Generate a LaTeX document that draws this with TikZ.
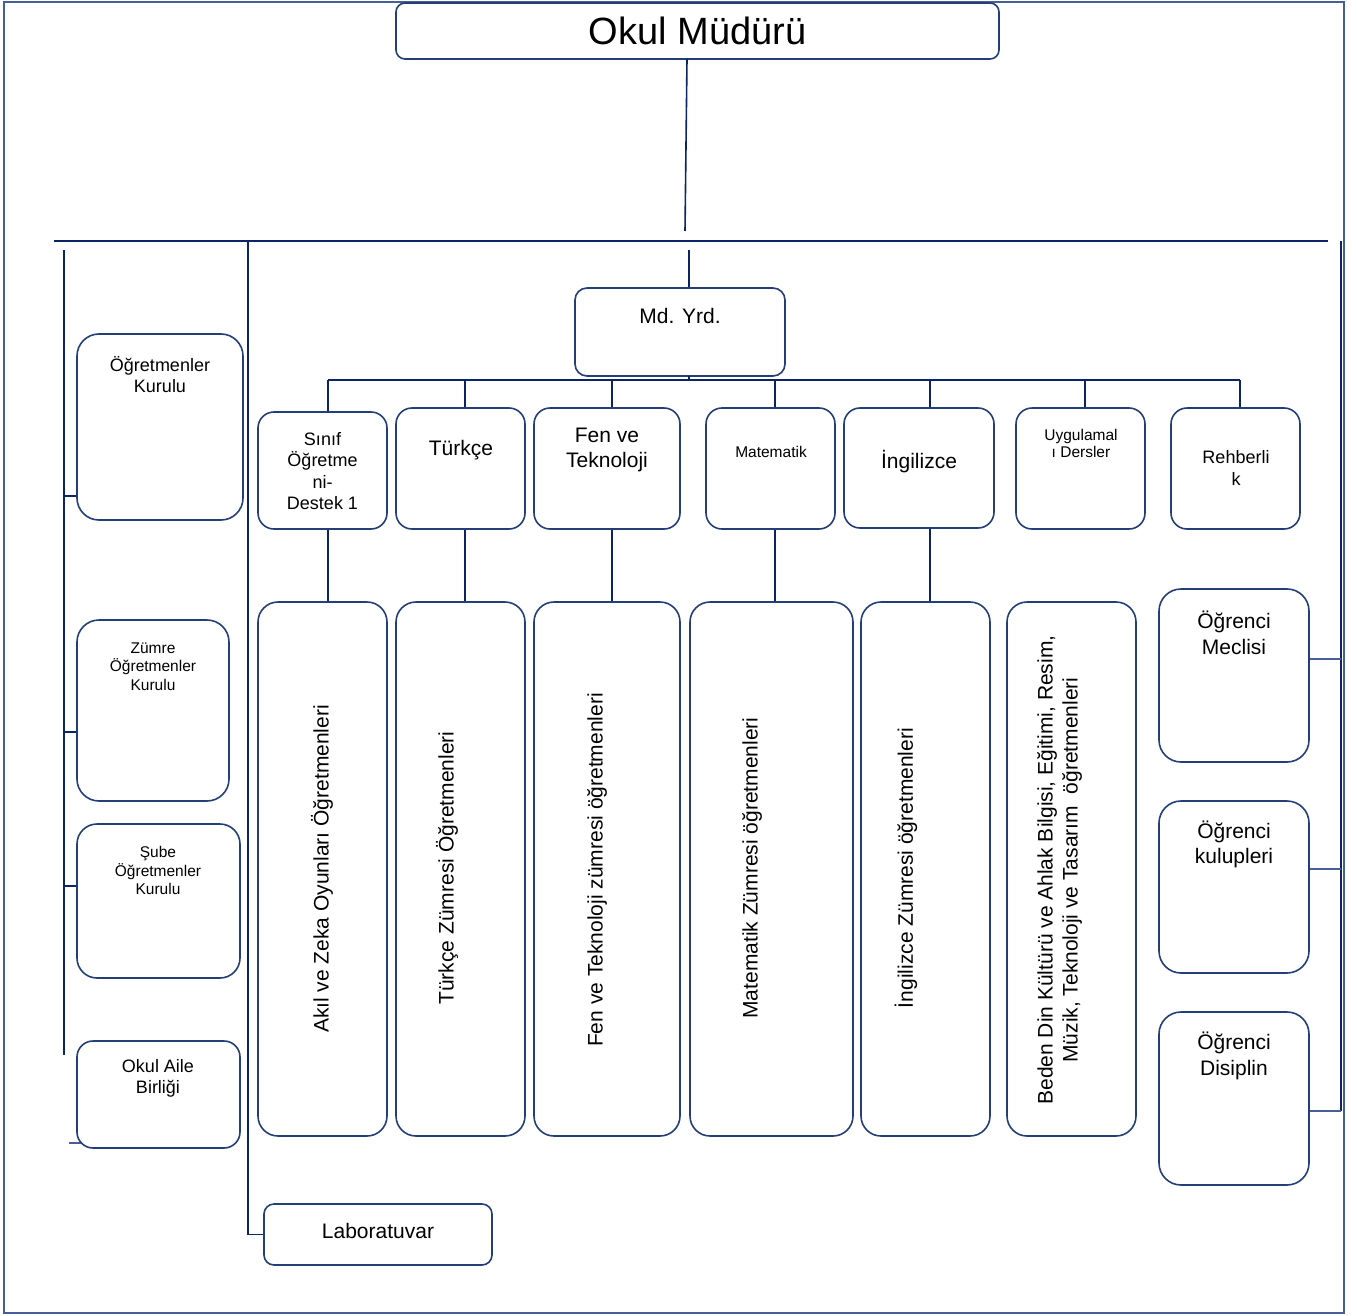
\documentclass[tikz,border=0pt]{standalone}
\usepackage{fontspec}
\setmainfont{Liberation Sans}
\usetikzlibrary{backgrounds}
\definecolor{boxc}{RGB}{36,62,120}
\definecolor{linec}{RGB}{10,36,100}
\definecolor{framec}{RGB}{70,95,150}
\begin{document}
\begin{tikzpicture}[x=1pt,y=-1pt,
  box/.style={draw=boxc,line width=1.6pt,rounded corners=16pt,inner sep=0pt,fill=white},
  conn/.style={draw=linec,line width=1.6pt},
  txt/.style={inner sep=0pt,align=center,text=black},
  fa/.style={font=\fontsize{21}{25.5}\selectfont},
  fb/.style={font=\fontsize{18}{21.5}\selectfont},
  fc/.style={font=\fontsize{15.5}{18.5}\selectfont}]
\useasboundingbox (0,0) rectangle (1357,1316);
\draw[draw=framec,line width=1.4pt] (4,2) rectangle (1344,1313);

% top
\node[box,rounded corners=9pt,minimum width=603pt,minimum height=56pt,font=\fontsize{38}{44}\selectfont] (mudur) at (697.5,31) {Okul Müdürü};
\node[box,rounded corners=12pt,minimum width=210pt,minimum height=88pt] (mdyrd) at (680,332) {};
\node[txt,fa] (tmdyrd) at (680,316) {Md. Yrd.};

% second row boxes
\node[box,minimum width=129pt,minimum height=117pt] (sinif) at (322.5,470.5) {};
\node[txt,fb] (tsinif) at (322.5,471) {Sınıf\\Öğretme\\ni-\\Destek 1};
\node[box,minimum width=129pt,minimum height=121pt] (turkce) at (460.5,468.5) {};
\node[txt,fa] (tturkce) at (461,450) {Türkçe};
\node[box,minimum width=146pt,minimum height=121pt] (fen) at (607,468.5) {};
\node[txt,fa] (tfen) at (607,450) {Fen ve\\Teknoloji};
\node[box,minimum width=129pt,minimum height=121pt] (mat) at (770.5,468.5) {};
\node[txt,fc] (tmat) at (771,452) {Matematik};
\node[box,minimum width=150pt,minimum height=120pt] (ing) at (919,468) {};
\node[txt,fa] (ting) at (919,462) {İngilizce};
\node[box,minimum width=129pt,minimum height=121pt] (uyg) at (1080.5,468.5) {};
\node[txt,fc,font=\fontsize{15.5}{17}\selectfont] (tuyg) at (1081,443.5) {Uygulamal\\ı Dersler};
\node[box,minimum width=129pt,minimum height=121pt] (reh) at (1235.5,468.5) {};
\node[txt,fb] (treh) at (1236,468) {Rehberli\\k};

% tall boxes
\node[box,rounded corners=20pt,minimum width=129pt,minimum height=534pt] (a1) at (322.5,869) {};
\node[txt,fa,rotate=90] (ta1) at (322,869) {Akıl ve Zeka Oyunları Öğretmenleri};
\node[box,rounded corners=20pt,minimum width=129pt,minimum height=534pt] (a2) at (460.5,869) {};
\node[txt,fa,rotate=90] (ta2) at (447,868) {Türkçe Zümresi Öğretmenleri};
\node[box,rounded corners=20pt,minimum width=146pt,minimum height=534pt] (a3) at (607,869) {};
\node[txt,fa,rotate=90] (ta3) at (597,870) {Fen ve Teknoloji zümresi öğretmenleri};
\node[box,rounded corners=20pt,minimum width=163pt,minimum height=534pt] (a4) at (771.5,869) {};
\node[txt,fa,rotate=90] (ta4) at (752,868) {Matematik Zümresi öğretmenleri};
\node[box,rounded corners=20pt,minimum width=129pt,minimum height=534pt] (a5) at (925.5,869) {};
\node[txt,fa,rotate=90] (ta5) at (906,868) {İngilizce Zümresi öğretmenleri};
\node[box,rounded corners=20pt,minimum width=129pt,minimum height=534pt] (a6) at (1071.5,869) {};
\node[txt,fa,rotate=90,font=\fontsize{21}{25}\selectfont] (ta6) at (1059.5,870) {Beden Din Kültürü ve Ahlak Bilgisi, Eğitimi, Resim,\\Müzik, Teknoloji ve Tasarım\ \ öğretmenleri};

% left boxes
\node[box,rounded corners=22pt,minimum width=166pt,minimum height=186pt] (ok) at (160,427) {};
\node[txt,fb] (tok) at (160,374.5) {Öğretmenler\\Kurulu};
\node[box,rounded corners=22pt,minimum width=152pt,minimum height=181pt] (zk) at (153,710.5) {};
\node[txt,fc] (tzk) at (153,666.5) {Zümre\\Öğretmenler\\Kurulu};
\node[box,rounded corners=20pt,minimum width=163pt,minimum height=154pt] (sk) at (158.5,901) {};
\node[txt,fc] (tsk) at (158,870.5) {Şube\\Öğretmenler\\Kurulu};
\node[box,rounded corners=16pt,minimum width=163pt,minimum height=107pt] (oab) at (158.5,1094.5) {};
\node[txt,fb] (toab) at (158,1078.5) {Okul Aile\\Birliği};
\node[box,rounded corners=10pt,minimum width=228pt,minimum height=61pt] (lab) at (378,1234.5) {};
\node[txt,fa] (tlab) at (378,1231) {Laboratuvar};

% right boxes
\node[box,rounded corners=22pt,minimum width=150pt,minimum height=173pt] (om) at (1234,675.5) {};
\node[txt,fa] (tom) at (1234,633) {Öğrenci\\Meclisi};
\node[box,rounded corners=22pt,minimum width=150pt,minimum height=172pt] (oku) at (1234,887) {};
\node[txt,fa] (toku) at (1234,844.5) {Öğrenci\\kulupleri};
\node[box,rounded corners=22pt,minimum width=150pt,minimum height=173pt] (od) at (1234,1098.5) {};
\node[txt,fa] (tod) at (1234,1056) {Öğrenci\\Disiplin};

% coordinates
\coordinate (m1) at (687,59);
\coordinate (m2) at (685,231);
\coordinate (hL) at (54,241);
\coordinate (hR) at (1328,241);
\coordinate (v1) at (248,241);
\coordinate (v2) at (248,1234.5);
\coordinate (y1) at (689,250);
\coordinate (y2) at (689,376);
\coordinate (lb1) at (64,250);
\coordinate (lb2) at (64,1055);
\coordinate (lk1) at (64,496);
\coordinate (lk2) at (64,732);
\coordinate (lk3) at (64,886);
\coordinate (lk4) at (69,1143);
\coordinate (rb1) at (1341,241);
\coordinate (rb2) at (1341,1111);
\coordinate (rk1) at (1341,659);
\coordinate (rk2) at (1341,869);
\coordinate (rk3) at (1341,1111);
\coordinate (bL) at (328,380);
\coordinate (bR) at (1240,380);
\coordinate (d1) at (328,380);
\coordinate (d2) at (465,380);
\coordinate (d3) at (612,380);
\coordinate (d4) at (775,380);
\coordinate (d5) at (930,380);
\coordinate (d6) at (1085,380);
\coordinate (d7) at (1240,380);

% connectors
\draw[conn] (m1) -- (m2);
\draw[conn] (hL) -- (hR);
\draw[conn] (v1) -- (v2) -- (lab.west);
\draw[conn] (y1) -- (y1 |- mdyrd.north);
\draw[conn] (y2) -- (y2 |- bL);
\draw[conn] (bL) -- (bR);
\draw[conn] (d1) -- (d1 |- sinif.north);
\draw[conn] (d2) -- (d2 |- turkce.north);
\draw[conn] (d3) -- (d3 |- fen.north);
\draw[conn] (d4) -- (d4 |- mat.north);
\draw[conn] (d5) -- (d5 |- ing.north);
\draw[conn] (d6) -- (d6 |- uyg.north);
\draw[conn] (d7) -- (d7 |- reh.north);
\draw[conn] (d1 |- sinif.south) -- (d1 |- a1.north);
\draw[conn] (d2 |- turkce.south) -- (d2 |- a2.north);
\draw[conn] (d3 |- fen.south) -- (d3 |- a3.north);
\draw[conn] (d4 |- mat.south) -- (d4 |- a4.north);
\draw[conn] (d5 |- ing.south) -- (d5 |- a5.north);
\draw[conn] (lb1) -- (lb2);
\draw[conn] (lk1) -- (lk1 -| ok.west);
\draw[conn] (lk2) -- (lk2 -| zk.west);
\draw[conn] (lk3) -- (lk3 -| sk.west);
\begin{scope}[on background layer]
\draw[conn,draw=framec] (lk4) -- (lk4 -| oab.center);
\end{scope}
\draw[conn] (rb1) -- (rb2);
\draw[conn,draw=framec] (rk1) -- (rk1 -| om.east);
\draw[conn,draw=framec] (rk2) -- (rk2 -| oku.east);
\draw[conn,draw=framec] (rk3) -- (rk3 -| od.east);
\end{tikzpicture}
\end{document}
